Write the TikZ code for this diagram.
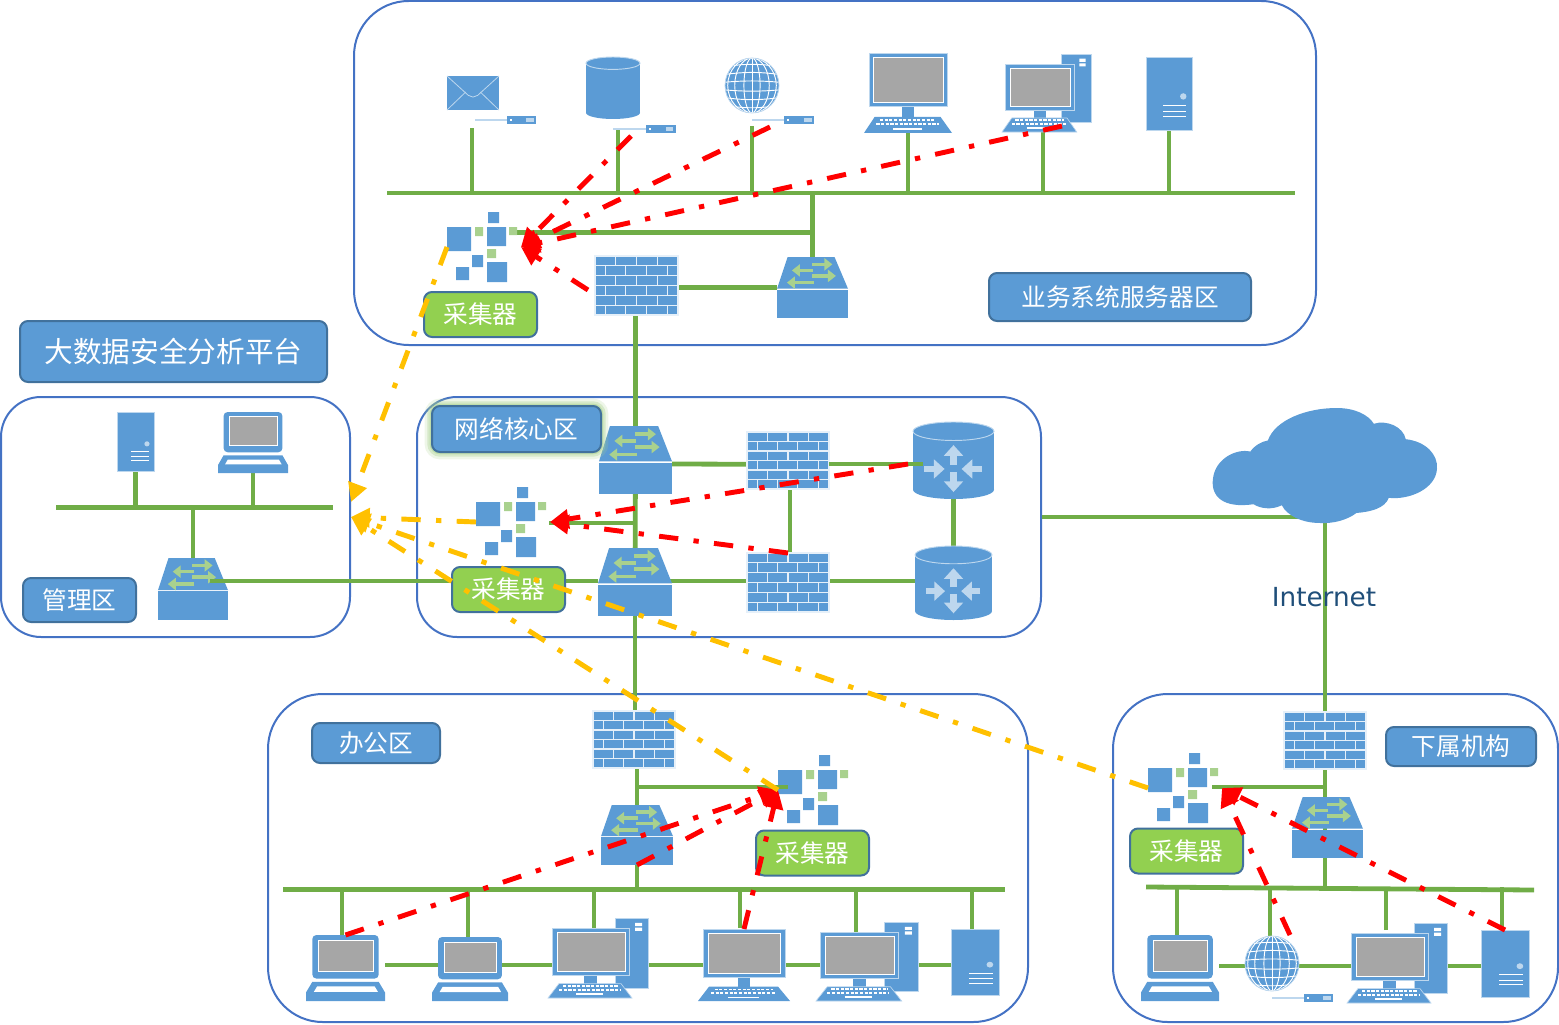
\documentclass[tikz,border=0pt]{standalone}
\usepackage{fontspec}
\setmainfont{Noto Sans CJK SC}
\newfontfamily\latinfont{DejaVu Sans}
\usetikzlibrary{arrows.meta,backgrounds}

\definecolor{iconblue}{HTML}{5B9BD5}
\definecolor{iconedge}{HTML}{BDD7EE}
\definecolor{boxedge}{HTML}{41719C}
\definecolor{zoneblue}{HTML}{4472C4}
\definecolor{wiregreen}{HTML}{70AD47}
\definecolor{taggreen}{HTML}{92D050}
\definecolor{palegreen}{HTML}{A9D18E}
\definecolor{screengray}{HTML}{A6A6A6}
\definecolor{netblue}{HTML}{1F4E79}
\definecolor{linkyellow}{HTML}{FFC000}

\tikzset{
  wire/.style={draw=wiregreen,line width=3.6pt},
  redlink/.style={draw=red,line width=3.7pt,dash pattern=on 14.5pt off 11.5pt on 4pt off 11.5pt,
    -{Triangle[length=14pt,width=14pt]}},
  yellowlink/.style={redlink,draw=linkyellow},
  zone/.style={draw=zoneblue,line width=1.5pt,inner sep=0pt,rounded corners=#1},
  iconbox/.style={inner sep=0pt,outer sep=0pt},
  bluetag/.style={draw=boxedge,line width=1.5pt,fill=iconblue,text=white,inner sep=0pt,rounded corners=6pt,
    font=\fontsize{18.5}{22}\selectfont},
  greentag/.style={bluetag,fill=taggreen,minimum width=84.75pt,minimum height=33.75pt},
  glow/.style={preaction={draw=palegreen,line width=11pt,opacity=.2},preaction={draw=palegreen,line width=7pt,opacity=.35},
    preaction={draw=palegreen,line width=3.5pt,opacity=.5}},
  brick/.style={draw=white!85!iconblue,line width=.8pt},
  keys/.style={draw=white,line width=1.3pt,dash pattern=on 2.4pt off 1.1pt},
  firewall/.pic={
    \fill[iconblue] (0,0) rectangle (100,100);
    \foreach \r in {1,...,5} \draw[brick] (0,\r*16.67) -- (100,\r*16.67);
    \foreach \r in {0,2,4} \foreach \c in {25,50,75} \draw[brick] (\c,\r*16.67) -- (\c,\r*16.67+16.67);
    \foreach \r in {1,3,5} \foreach \c in {13,37,62,87} \draw[brick] (\c,\r*16.67) -- (\c,\r*16.67+16.67);
    \draw[brick] (0,0) rectangle (100,100);
  },
  switchbox/.pic={
    \fill[iconblue] (15,0) -- (81,0) -- (100,52) -- (0,52) -- cycle;
    \fill[iconblue] (0,54) rectangle (100,100);
    \foreach \xa/\xb/\yy in {49/78/12,51/21/22,49/83/31,52/14/42}
      \draw[draw=palegreen,line width=2.6pt,-{Triangle[length=6pt,width=9pt]}] (\xa,\yy) -- (\xb,\yy);
  },
  router/.pic={
    \fill[iconblue] (0,12) rectangle (100,88);
    \fill[iconblue] (50,88) ellipse [x radius=50,y radius=12];
    \draw[iconedge,line width=.7pt,fill=iconblue] (50,12) ellipse [x radius=50,y radius=12];
    \foreach \xa/\ya/\xb/\yb in {50/56/50/30,50/65/50/91,14/61/39/61,85/61/60/61}
      \draw[draw=iconedge,line width=5pt,-{Triangle[length=8pt,width=14pt]}] (\xa,\ya) -- (\xb,\yb);
  },
  dbcan/.pic={
    \fill[iconblue] (0,10) rectangle (100,90);
    \fill[iconblue] (50,90) ellipse [x radius=50,y radius=10];
    \draw[iconedge,line width=.7pt,fill=iconblue] (50,10) ellipse [x radius=50,y radius=10];
  },
  mailbox/.pic={
    \fill[iconblue] (0,0) rectangle (100,100);
    \draw[iconedge,line width=.6pt] (0,0) -- (41,57) -- (50,62) -- (59,57) -- (100,0);
    \draw[iconedge,line width=.6pt] (0,100) -- (36,47) (100,100) -- (64,47);
  },
  globe/.pic={
    \fill[iconblue] (50,50) ellipse [x radius=50,y radius=50];
    \begin{scope}
      \clip (50,50) ellipse [x radius=50,y radius=50];
      \foreach \r in {15,32,45} \draw[white,line width=.7pt] (50,50) ellipse [x radius=\r,y radius=50];
      \draw[white,line width=.7pt] (50,0) -- (50,100);
      \foreach \ya/\yb in {16/10,30/25,44/41,58/61,72/77,86/92}
        \draw[white,line width=.7pt] (0,\ya) .. controls (35,\yb) and (65,\yb) .. (100,\ya);
    \end{scope}
    \draw[iconedge,line width=.6pt] (50,50) ellipse [x radius=50,y radius=50];
  },
  probe/.pic={
    \draw[iconedge,line width=1pt] (0,50) -- (52,50);
    \fill[iconblue] (52,0) rectangle (100,100);
    \fill[white] (57,38) rectangle (60,62);
    \fill[iconedge] (84,30) rectangle (96,70);
  },
  server/.pic={
    \fill[iconblue] (0,0) rectangle (100,100);
    \draw[iconedge,line width=.6pt] (0,0) rectangle (100,100);
    \fill[iconedge] (81,54) ellipse [x radius=7,y radius=4.4];
    \foreach \yy in {67,75,82} \draw[white,line width=.8pt] (38,\yy) -- (87,\yy);
  },
  monitor/.pic={
    \fill[iconblue] (43,67) rectangle (57,80);
    \draw[iconedge,line width=.6pt,fill=iconblue] (6,0) rectangle (95,67);
    \draw[white,line width=.7pt,fill=screengray] (11,6) rectangle (90,62);
    \fill[iconblue] (12,80) -- (87,80) -- (100,100) -- (0,100) -- cycle;
    \draw[keys] (18,84) -- (81,84) (14,89) -- (85,89);
    \draw[white,line width=1.3pt] (33,95) -- (66,95);
  },
  desktop/.pic={
    \draw[iconedge,line width=.6pt,fill=iconblue] (67,0) rectangle (100,88);
    \fill[white] (87,6) rectangle (94,10) (87,12) rectangle (94,16);
    \fill[iconblue] (36,72) rectangle (49,82);
    \draw[iconedge,line width=.6pt,fill=iconblue] (4,13) rectangle (81,72);
    \draw[white,line width=.7pt,fill=screengray] (9,18) rectangle (77,67);
    \draw[iconedge,line width=.5pt,fill=iconblue] (11,82) -- (73,82) -- (84,100) -- (0,100) -- cycle;
    \draw[keys] (15,85) -- (70,85) (11,90) -- (72,90);
    \draw[white,line width=1.3pt] (28,95) -- (55,95);
  },
  laptop/.pic={
    \fill[iconblue,rounded corners=3pt] (8,0) rectangle (92,66);
    \draw[white,line width=.7pt,fill=screengray] (16,8) rectangle (85,55);
    \fill[iconblue] (8,71) -- (92,71) -- (100,87) -- (100,100) -- (0,100) -- (0,87) -- cycle;
    \fill[white] (14,78) -- (87,78) -- (91,86) -- (10,86) -- cycle;
  },
  cloudicon/.pic={
    \begin{scope}[xscale=100/674,yscale=100/343,shift={(-38,-25)}]
      \fill[iconblue] (160,312) .. controls (70,325) and (30,290) .. (38,235)
        .. controls (45,175) and (110,145) .. (150,155)
        .. controls (165,135) and (185,125) .. (203,122)
        .. controls (225,60) and (320,25) .. (410,25)
        .. controls (465,25) and (505,45) .. (522,72)
        .. controls (560,60) and (610,80) .. (618,118)
        .. controls (680,125) and (715,165) .. (712,205)
        .. controls (710,265) and (630,300) .. (567,293)
        .. controls (555,325) and (510,335) .. (470,338)
        .. controls (440,360) and (400,370) .. (360,368)
        .. controls (305,368) and (260,345) .. (245,315)
        .. controls (215,330) and (180,325) .. (160,312) -- cycle;
    \end{scope}
  },
  collector/.pic={
    \fill[iconblue] (0,15) rectangle (24,39) (41,0) rectangle (52,11) (40,15) rectangle (59,34)
      (25,43) rectangle (36,55) (9,55) rectangle (22,68) (40,50) rectangle (60,70);
    \fill[palegreen] (28,15) rectangle (36,24) (62,15) rectangle (70,23) (40,37) rectangle (49,46);
  },
}

% type, name, then the corners of its box
\newcommand\placeicon[6]{
  \node[iconbox,minimum width={(#5-#3)*.75pt},minimum height={(#6-#4)*.75pt}] (#2) at ({(#3+#5)/2},{(#4+#6)/2}) {};
  \begin{scope}[shift={(#3,#4)},xscale={(#5-#3)/100},yscale={(#6-#4)/100}]
    \pic[transform shape] at (0,0) {#1};
  \end{scope}
}

\begin{document}
\begin{tikzpicture}[x=.75pt,y=-.75pt]
  \useasboundingbox (0,0) rectangle (1559,1024);

  \foreach \t/\n/\xa/\ya/\xb/\yb in {
    mailbox/mail/447/76/499/110, probe/probea/475/116/536/124,
    dbcan/store/586/57/640/119, probe/probeb/613/125/676/133,
    globe/web/725/58/779/113, probe/probec/752/116/814/124,
    monitor/montop/864/53/952/133, desktop/desktop/1002/54/1091/132, server/srvtop/1146/57/1192/130,
    firewall/fwtop/595/256/678/315, switchbox/swtop/777/257/848/318,
    server/srvmgmt/117/412/154/471, laptop/lapmgmt/218/412/288/473, switchbox/swmgmt/158/558/228/620,
    switchbox/swa/599/426/672/494, switchbox/swb/598/548/672/616,
    firewall/fwa/747/432/829/489, firewall/fwb/747/553/829/612,
    router/ra/913/422/994/499, router/rb/915/546/992/620,
    firewall/fwoff/593/711/675/768, switchbox/swoff/601/805/673/865,
    laptop/lapa/306/935/385/1001, laptop/lapb/432/937/508/1001,
    desktop/deska/548/918/648/998, monitor/monoff/698/929/790/1001,
    desktop/deskb/816/922/918/1001, server/srvoff/951/929/999/995,
    cloudicon/cloud/1213/408/1437/523,
    firewall/fwbr/1284/712/1366/769, switchbox/swbr/1292/797/1363/858,
    laptop/lapbr/1141/935/1219/1001, globe/webbr/1245/936/1299/991, probe/probed/1272/994/1333/1002,
    desktop/deskbr/1347/923/1447/1003, server/srvbr/1481/930/1529/997}{
    \placeicon{\t}{\n}{\xa}{\ya}{\xb}{\yb}
  }
  \foreach \n/\x/\y in {coltop/447/212,colcore/476/487,coloff/778/755,colbr/1148/753}{
    \node[iconbox,minimum width=55.5pt,minimum height=52.5pt] (\n) at (\x+37,\y+35) {};
    \pic at (\x,\y) {collector};
  }

  \begin{scope}[on background layer]
    \node[zone=41pt,minimum width=721.5pt,minimum height=258pt] (zonetop) at (835,173) {};
    \node[zone=30pt,minimum width=261.75pt,minimum height=180pt] (zonemgmt) at (175.5,517) {};
    \node[zone=30pt,minimum width=468pt,minimum height=180pt] (zonecore) at (729,517) {};
    \node[zone=41pt,minimum width=570pt,minimum height=246pt] (zoneoff) at (648,858) {};
    \node[zone=41pt,minimum width=333.75pt,minimum height=246pt] (zonebr) at (1335.5,858) {};

    % buses
    \foreach \n/\xa/\ya/\xb/\yb in {bustop/387/193/1295/193,busmgmt/56/507.5/333/507.5,
      busoff/283/889.5/1005/889.5,busbr/1146/887/1534/890}{
      \coordinate (\n) at (\xa,\ya);
      \draw[wire] (\n) -- (\xb,\yb);
    }
    % drops onto the buses
    \foreach \n/\b/\x/\y in {tapa/bustop/472/128,tapb/bustop/618/130,tapc/bustop/752/126,tapd/bustop/908/130,
      tape/bustop/1043/127,tapf/bustop/1169/127,tapg/busoff/342/935,taph/busoff/468/937,tapi/busoff/594/930,
      tapj/busoff/740/928,tapk/busoff/856/932,tapl/busoff/972/929,tapm/busbr/1177/935,tapn/busbr/1270/937,
      tapo/busbr/1386/930,tapp/busbr/1502/930}{
      \coordinate (\n) at (\x,\y);
      \draw[wire] (\n) -- (\n |- \b);
    }
    \draw[wire] (swtop) -- (swtop |- bustop);
    \draw[wire] (srvmgmt) -- (srvmgmt |- busmgmt);
    \draw[wire] (lapmgmt) -- (lapmgmt |- busmgmt);
    \draw[wire] (swmgmt) -- (swmgmt |- busmgmt);
    \draw[wire] (swoff) -- (swoff |- busoff);
    \draw[wire] (fwbr |- swbr) -- (fwbr |- busbr);

    \coordinate (tapcol) at (517,232.5);
    \draw[wire] (tapcol) -- (tapcol -| swtop);
    \draw[wire] (fwtop.east |- swtop) -- (swtop);
    \draw[wire] (swa |- fwtop) -- (swa);
    \draw[wire] (swa) -- (swb);
    \coordinate (tapcore) at (549,523);
    \draw[wire] (tapcore) -- (tapcore -| swa);
    \draw[wire] ([yshift=-3pt]swa.east) -- ([yshift=-3pt]fwa.east);
    \draw[wire] ([xshift=1.5pt]fwa.center) -- ([xshift=1.5pt]fwb.center);
    \draw[wire] (ra) -- (rb);
    \draw[wire] (swb) -- (swb |- fwoff);
    \draw[wire] (fwoff.south -| swoff) -- (swoff);
    \draw[wire] (zonecore.east) -- (zonecore.east -| cloud);
    \draw[wire] (cloud) -- (fwbr);
    \draw[wire] (fwbr) -- (fwbr |- swbr);
    \coordinate (tapbr) at (1212,787);
    \draw[wire] (tapbr) -- (tapbr -| fwbr);
    \coordinate (rowoff) at (0,965);
    \draw[wire] (lapa.east |- rowoff) -- (srvoff.west |- rowoff);
    \coordinate (rowbr) at (0,966);
    \draw[wire] (lapbr.east |- rowbr) -- (srvbr.west |- rowbr);
  \end{scope}

  % these run over the icons
  \coordinate (tapmgmt) at (210,581);
  \draw[wire] (tapmgmt) -- (tapmgmt -| swb.west);
  \begin{scope}[on background layer]
    \draw[wire] (swb |- tapmgmt) -- (rb |- tapmgmt);
  \end{scope}
  \coordinate (tapra) at (923,464);
  \draw[wire] (tapra) -- (tapra -| fwa.east);
  \coordinate (tapoff) at (638,787);
  \coordinate (tapoffend) at (788,787);
  \draw[wire] (tapoff) -- (tapoffend);

  \node[bluetag,minimum width=230.25pt,minimum height=45.75pt,font=\fontsize{21.5}{26}\selectfont] (tagplat) at (173.5,351.5) {大数据安全分析平台};
  \node[bluetag,minimum width=196.5pt,minimum height=36pt] (tagbiz) at (1120,297) {业务系统服务器区};
  \node[bluetag,glow,minimum width=126.75pt,minimum height=34.5pt] (tagcore) at (516.5,429) {网络核心区};
  \node[bluetag,minimum width=84.75pt,minimum height=33pt] (tagmgmt) at (79.5,600) {管理区};
  \node[bluetag,minimum width=96pt,minimum height=30pt] (tagoff) at (376,743) {办公区};
  \node[bluetag,minimum width=112.5pt,minimum height=29.25pt] (tagbr) at (1461,746.5) {下属机构};
  \foreach \n/\x/\y in {gtagtop/480.5/314.5,gtagcore/508.5/589.5,gtagoff/812.5/853,gtagbr/1186.5/851}
    \node[greentag] (\n) at (\x,\y) {采集器};
  \node[font=\latinfont\fontsize{19.7}{22}\selectfont,text=netblue] (netlabel) at (1324,597) {Internet};

  \foreach \n/\x/\y in {srcdb/631/136,srcweb/770/127,srcdesk/1062/126,srcfw/588/290,srcra/908/464,srcwebbr/1290/935}
    \coordinate (\n) at (\x,\y);

  \draw[redlink] (srcdb) -- (coltop.east);
  \draw[redlink] (srcweb) -- (coltop.east);
  \draw[redlink] (srcdesk) -- (coltop.east);
  \draw[redlink] (srcfw) -- (coltop.east);
  \draw[redlink] (srcra) -- (colcore.east);
  \draw[redlink] (fwb.north) -- (colcore.east);
  \draw[redlink] (lapa.north) -- (coloff.west);
  \draw[redlink] (swoff.south) -- (coloff.west);
  \draw[redlink] (monoff.north) -- (coloff.west);
  \draw[redlink] (srvbr.north) -- (colbr.east);
  \draw[redlink] (srcwebbr) -- (colbr.east);

  \draw[yellowlink] (coltop.west) -- ([yshift=11.25pt]zonemgmt.east);
  \draw[yellowlink] (colcore.west) -- (zonemgmt.east);
  \draw[yellowlink] (coloff.west) -- (zonemgmt.east);
  \draw[yellowlink] (colbr.west) -- (zonemgmt.east);
\end{tikzpicture}
\end{document}
